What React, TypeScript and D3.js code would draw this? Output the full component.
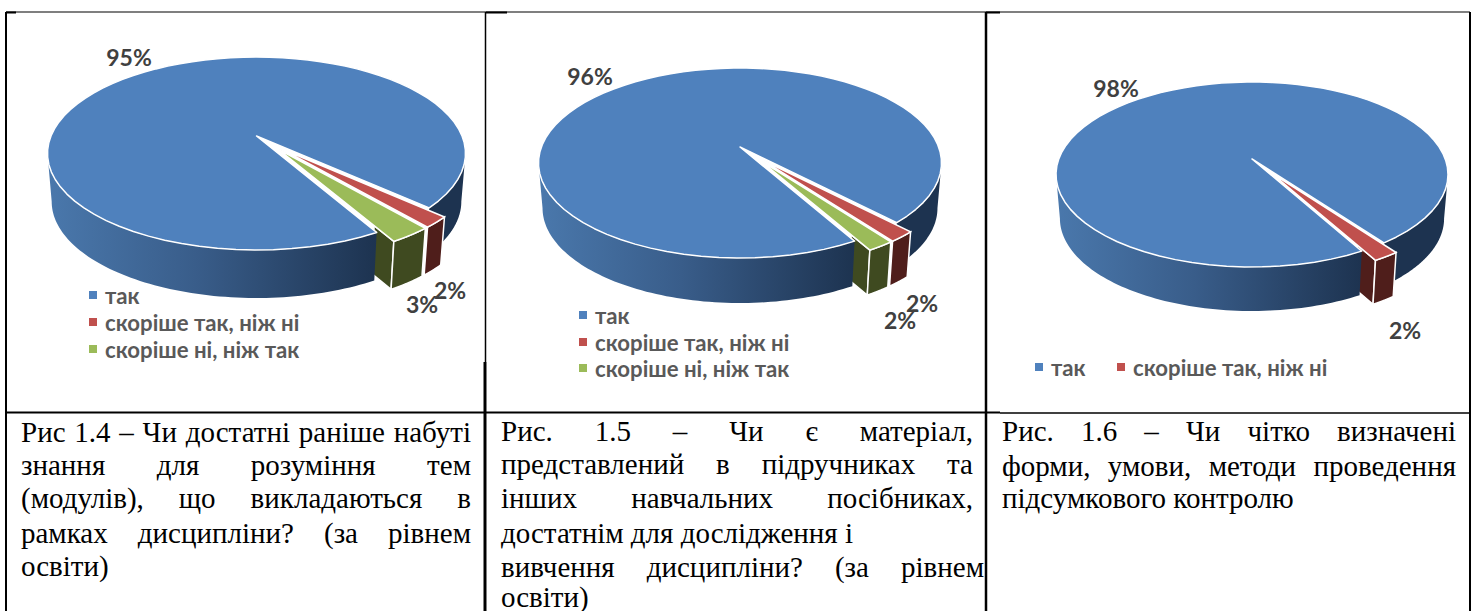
import React, { useLayoutEffect, useRef } from 'react';
import * as d3 from 'd3';

const chartFont = 'Lato, "Open Sans", sans-serif';
const captionFont = '"Liberation Serif", serif';

const categories = ['так', 'скоріше так, ніж ні', 'скоріше ні, ніж так'];
const topColors = ['#4f81bd', '#c0504d', '#9bbb59'];
const wallColors = ['#1d3350', '#4f1e1b', '#3f4a20'];

const valuesA = [95, 2, 3];
const valuesB = [96, 2, 2];
const valuesC = [98, 2];

const captionA = [
  'Рис 1.4 – Чи достатні раніше набуті',
  'знання для розуміння тем',
  '(модулів), що викладаються в',
  'рамках дисципліни? (за рівнем',
  'освіти)',
];
const captionB = [
  'Рис. 1.5 – Чи є матеріал,',
  'представлений в підручниках та',
  'інших навчальних посібниках,',
  'достатнім для дослідження і',
  'вивчення дисципліни? (за рівнем',
  'освіти)',
];
const captionC = [
  'Рис. 1.6 – Чи чітко визначені',
  'форми, умови, методи проведення',
  'підсумкового контролю',
];

type Pt = [number, number];

interface PieProps {
  id: string;
  values: number[];
  cx: number;
  halfWidth: number;
  top: number;
  front: number;
  apexY: number;
  depth: number;
  startDeg: number;
  labelPos: Pt[];
  legendPos: Pt[];
}

const EXPLODE = 0.17;
const SHRINK = 0.92;
const rad = (d: number) => (d * Math.PI) / 180;
const line = d3.line<Pt>();

function Pie3D({ id, values, cx, halfWidth, top, front, apexY, depth, startDeg, labelPos, legendPos }: PieProps) {
  // circle seen in perspective: its centre lands above the middle of the ellipse
  const a = front - apexY;
  const b = apexY - top;
  const k = (a - b) / (a + b);
  const ry = a * (1 - k);
  const rx = halfWidth * Math.sqrt(1 - k * k);

  const project = (x: number, y: number): Pt => {
    const w = 1 - k * y;
    return [cx + (rx * x) / w, apexY + (ry * y) / w];
  };
  const lower = ([x, y]: Pt): Pt => [cx + (x - cx) * 0.98, y + depth];

  const rim = (from: number, to: number, e: number, r: number, dir: number): Pt[] =>
    d3.range(0, 81).map((i) => {
      const t = from + ((to - from) * i) / 80;
      return project(e * Math.sin(dir) + r * Math.sin(t), -(e * Math.cos(dir) + r * Math.cos(t)));
    });

  const wallPath = (pts: Pt[]) => line([...pts, ...pts.map(lower).reverse()]) + 'Z';

  const start = rad(startDeg);
  const arcs = d3
    .pie<number>()
    .value((d) => d)
    .sort(null)
    .startAngle(start)
    .endAngle(start + 2 * Math.PI)(values);

  const blue = arcs[0];
  const small = arcs.slice(1);
  const silhouette = Math.acos(-k);

  // the exploded slices move mostly together, so their walls stay side by side
  const shared = (blue.endAngle + start + 2 * Math.PI) / 2;
  const dirOf = (arc: d3.PieArcDatum<number>) => ((arc.startAngle + arc.endAngle) / 2 + shared) / 2;

  const blueLeft = rim(blue.startAngle, 2 * Math.PI - silhouette, 0, 1, 0);
  const blueRight = rim(2 * Math.PI + silhouette, blue.endAngle, 0, 1, 0);
  const blueTop: Pt[] = [project(0, 0), ...rim(blue.startAngle, blue.endAngle, 0, 1, 0)];

  const last = small[small.length - 1];
  const lastDir = dirOf(last);
  const lastTip = rim(last.endAngle, last.endAngle, EXPLODE, SHRINK, lastDir)[0];
  const lastApex = project(EXPLODE * Math.sin(lastDir), -EXPLODE * Math.cos(lastDir));
  const faceEnd = d3.interpolateArray(lastTip, lastApex)(0.17) as Pt;

  return (
    <g>
      <defs>
        <linearGradient
          id={id}
          gradientUnits="userSpaceOnUse"
          x1={cx - halfWidth}
          x2={blueLeft[0][0]}
          y1={0}
          y2={0}
        >
          <stop offset="0" stopColor="#4a78ac" />
          <stop offset="0.45" stopColor="#395d8a" />
          <stop offset="1" stopColor="#1d3350" />
        </linearGradient>
      </defs>

      <path
        d={wallPath([lastTip, faceEnd])}
        fill={wallColors[small.length]}
        stroke="#fff"
        strokeWidth={1.5}
      />
      <path d={wallPath(blueRight)} fill={wallColors[0]} />
      <path d={wallPath(blueLeft)} fill={`url(#${id})`} />
      <path d={line(blueTop) + 'Z'} fill={topColors[0]} stroke="#fff" strokeWidth={1.5} strokeLinejoin="round" />

      {small.map((arc, i) => {
        const dir = dirOf(arc);
        const pts = rim(arc.startAngle, arc.endAngle, EXPLODE, SHRINK, dir);
        const apex = project(EXPLODE * Math.sin(dir), -EXPLODE * Math.cos(dir));
        return (
          <g key={i}>
            <path d={wallPath(pts)} fill={wallColors[i + 1]} stroke="#fff" strokeWidth={1.5} />
            <path d={line([apex, ...pts]) + 'Z'} fill={topColors[i + 1]} stroke="#fff" strokeWidth={1.5} />
          </g>
        );
      })}

      {values.map((v, i) => (
        <text
          key={i}
          x={labelPos[i][0]}
          y={labelPos[i][1]}
          textAnchor="middle"
          dominantBaseline="central"
          fontFamily={chartFont}
          fontWeight={700}
          fontSize={23}
          fill="#404040"
        >
          {v}%
        </text>
      ))}

      {values.map((_, i) => (
        <g key={i}>
          <rect x={legendPos[i][0]} y={legendPos[i][1] - 4} width={8} height={8} fill={topColors[i]} />
          <text
            x={legendPos[i][0] + 16}
            y={legendPos[i][1]}
            dominantBaseline="central"
            fontFamily={chartFont}
            fontWeight={700}
            fontSize={22.2}
            fill="#595959"
          >
            {categories[i]}
          </text>
        </g>
      ))}
    </g>
  );
}

function Caption({ lines, x, right, baselines, justified }: { lines: string[]; x: number; right: number[]; baselines: number[]; justified: boolean[] }) {
  const ref = useRef<SVGGElement>(null);

  useLayoutEffect(() => {
    // justify like the Word table cell: stretch only the gaps between words
    d3.select(ref.current)
      .selectAll<SVGTextElement, unknown>('text')
      .each(function (_, i) {
        if (!justified[i]) return;
        const gaps = lines[i].split(' ').length - 1;
        const free = right[i] - x - this.getComputedTextLength();
        d3.select(this).attr('word-spacing', free / gaps);
      });
  }, []);

  return (
    <g ref={ref} fontFamily={captionFont} fontSize={29} fill="#000">
      {lines.map((l, i) => (
        <text key={i} x={x} y={baselines[i]}>
          {l}
        </text>
      ))}
    </g>
  );
}

const gridV: [number, number, number, number][] = [
  [6, 12, 611, 2],
  [485.5, 12, 362, 1.5],
  [485, 362, 611, 3],
  [986, 12, 611, 2.5],
  [1470, 12, 611, 2],
];
const gridH: [number, number, number, number][] = [
  [6, 1470, 12, 1.2],
  [6, 16, 12.5, 2],
  [486, 507, 12.5, 2],
  [986, 1000, 12.5, 2],
  [6, 1000, 412.5, 2.2],
  [1000, 1470, 413, 1.3],
];

export default function App() {
  return (
    <svg width={1476} height={611} style={{ position: 'absolute', left: 0, top: 0, background: '#fff' }}>
      <Pie3D
        id="wall-a"
        values={valuesA}
        cx={256.5}
        halfWidth={209}
        top={57}
        front={250}
        apexY={136}
        depth={48}
        startDeg={150.5}
        labelPos={[[129, 57], [450, 290], [422, 304]]}
        legendPos={[[89, 295], [89, 322], [89, 349]]}
      />
      <Pie3D
        id="wall-b"
        values={valuesB}
        cx={740}
        halfWidth={201.5}
        top={68}
        front={258}
        apexY={147}
        depth={45}
        startDeg={150.5}
        labelPos={[[590, 76], [922, 303], [900, 320]]}
        legendPos={[[579, 315], [579, 342], [579, 368]]}
      />
      <Pie3D
        id="wall-c"
        values={valuesC}
        cx={1252}
        halfWidth={196}
        top={82}
        front={267}
        apexY={159}
        depth={44}
        startDeg={151}
        labelPos={[[1116, 88], [1405, 330]]}
        legendPos={[[1035, 367], [1117, 367]]}
      />

      {gridV.map(([x, y1, y2, w], i) => (
        <line key={i} x1={x} x2={x} y1={y1} y2={y2} stroke="#000" strokeWidth={w} />
      ))}
      {gridH.map(([x1, x2, y, w], i) => (
        <line key={i} x1={x1} x2={x2} y1={y} y2={y} stroke="#000" strokeWidth={w} />
      ))}

      <Caption
        lines={captionA}
        x={21}
        right={[471, 471, 471, 471, 471]}
        baselines={[442, 475, 508, 543, 576]}
        justified={[true, true, true, true, false]}
      />
      <Caption
        lines={captionB}
        x={501}
        right={[973, 973, 973, 973, 984, 973]}
        baselines={[441, 474, 508, 543, 577, 607]}
        justified={[true, true, true, false, true, false]}
      />
      <Caption
        lines={captionC}
        x={1002}
        right={[1456, 1456, 1456]}
        baselines={[441, 476, 508]}
        justified={[true, true, false]}
      />
    </svg>
  );
}
